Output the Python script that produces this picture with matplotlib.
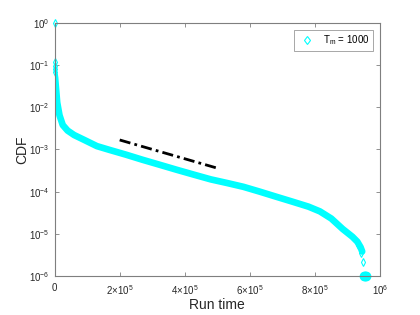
import matplotlib
matplotlib.use("Agg")
import matplotlib.pyplot as plt
from matplotlib.lines import Line2D

plt.rcParams['font.family'] = ['Liberation Sans', 'DejaVu Sans']
plt.rcParams['mathtext.default'] = 'regular'

# isolated markers at run time 0
zero_time = [0, 0, 0, 0, 0]
zero_cdf = [1.0, 0.12, 0.095, 0.08, 0.068]

# dense band of the empirical CDF
run_time = [0, 1.5e3, 4e3, 8e3, 1.5e4, 2.5e4, 4e4, 6e4, 9e4, 1.3e5, 1.7e5,
            2.2e5, 2.7e5, 3.2e5, 3.75e5, 4.3e5, 4.8e5, 5.3e5, 5.8e5, 6.3e5,
            6.8e5, 7.3e5, 7.8e5, 8.15e5, 8.5e5, 8.85e5, 9.15e5, 9.3e5,
            9.4e5, 9.45e5]
cdf = [0.06, 0.05, 0.03, 0.013, 0.0065, 0.0038, 0.0028, 0.0022, 0.0017,
       0.0012, 0.00097, 0.00075, 0.00057, 0.00044, 0.00033, 0.00025,
       0.000195, 0.00016, 0.00013, 0.0001, 7.6e-5, 5.8e-5, 4.4e-5, 3.4e-5,
       2.3e-5, 1.3e-5, 8.5e-6, 6.5e-6, 4.8e-6, 3.8e-6]

# sparse tail
tail_time = [9.33e5, 9.42e5, 9.48e5]
tail_cdf = [5.5e-6, 3.5e-6, 2.2e-6]
last_time = [9.52e5, 9.54e5, 9.56e5]
last_cdf = [1e-6, 1e-6, 1e-6]

# reference slope line
ref_time = [2e5, 5e5]
ref_cdf = [1.68e-3, 3.6e-4]

cyan = '#00FFFF'
gray = '#7f7f7f'

fig = plt.figure(figsize=(4.2, 3.15), dpi=100)
ax = fig.add_axes([0.13, 0.124, 0.775, 0.803])

ax.plot(run_time, cdf, color=cyan, lw=4.8, solid_capstyle='round',
        solid_joinstyle='round')
ax.plot(zero_time, zero_cdf, 'd', mfc='none', mec=cyan, ms=4, mew=0.8,
        clip_on=False)
ax.plot(tail_time, tail_cdf, 'd', mfc='none', mec=cyan, ms=4, mew=0.8)
ax.plot(last_time, last_cdf, 'o', mfc=cyan, mec=cyan, ms=6, mew=1,
        clip_on=False)
ax.plot(ref_time, ref_cdf, color='black', ls=(0, (4, 1.5, 1, 1.5)), lw=2)

ax.set_yscale('log')
ax.set_xlim(0, 1e6)
ax.set_ylim(1e-6, 1)

xticks = [0, 2e5, 4e5, 6e5, 8e5, 1e6]
xlabels = ['0', r'$2{\times}10^5$', r'$4{\times}10^5$', r'$6{\times}10^5$',
           r'$8{\times}10^5$', r'$10^6$']
yticks = [1e-6, 1e-5, 1e-4, 1e-3, 1e-2, 1e-1, 1]
ylabels = [r'$10^{-6}$', r'$10^{-5}$', r'$10^{-4}$', r'$10^{-3}$',
           r'$10^{-2}$', r'$10^{-1}$', r'$10^{0}$']
ax.set_xticks(xticks)
ax.set_xticklabels(xlabels)
ax.set_yticks(yticks)
ax.set_yticklabels(ylabels)
ax.minorticks_off()

ax.tick_params(direction='in', length=3, width=0.6, color=gray,
               labelsize=7, labelcolor='#262626', top=True, right=True)
ax.tick_params(axis='x', pad=5)
for s in ax.spines.values():
    s.set_color(gray)
    s.set_linewidth(0.8)

ax.set_xlabel('Run time', fontsize=10, color='#262626', labelpad=1)
ax.set_ylabel('CDF', fontsize=10, color='#262626', labelpad=0)

handle = Line2D([], [], ls='none', marker='d', mfc='none', mec=cyan, ms=4.5,
                mew=0.8)
leg = ax.legend([handle], [r'$T_m$ = 1000'], loc='upper right', fontsize=7,
                frameon=True, fancybox=False, borderaxespad=0.7,
                handlelength=2.0, handletextpad=0.6, borderpad=0.4)
leg.get_frame().set_edgecolor(gray)
leg.get_frame().set_linewidth(0.6)

fig.savefig('out.png', dpi=100)
